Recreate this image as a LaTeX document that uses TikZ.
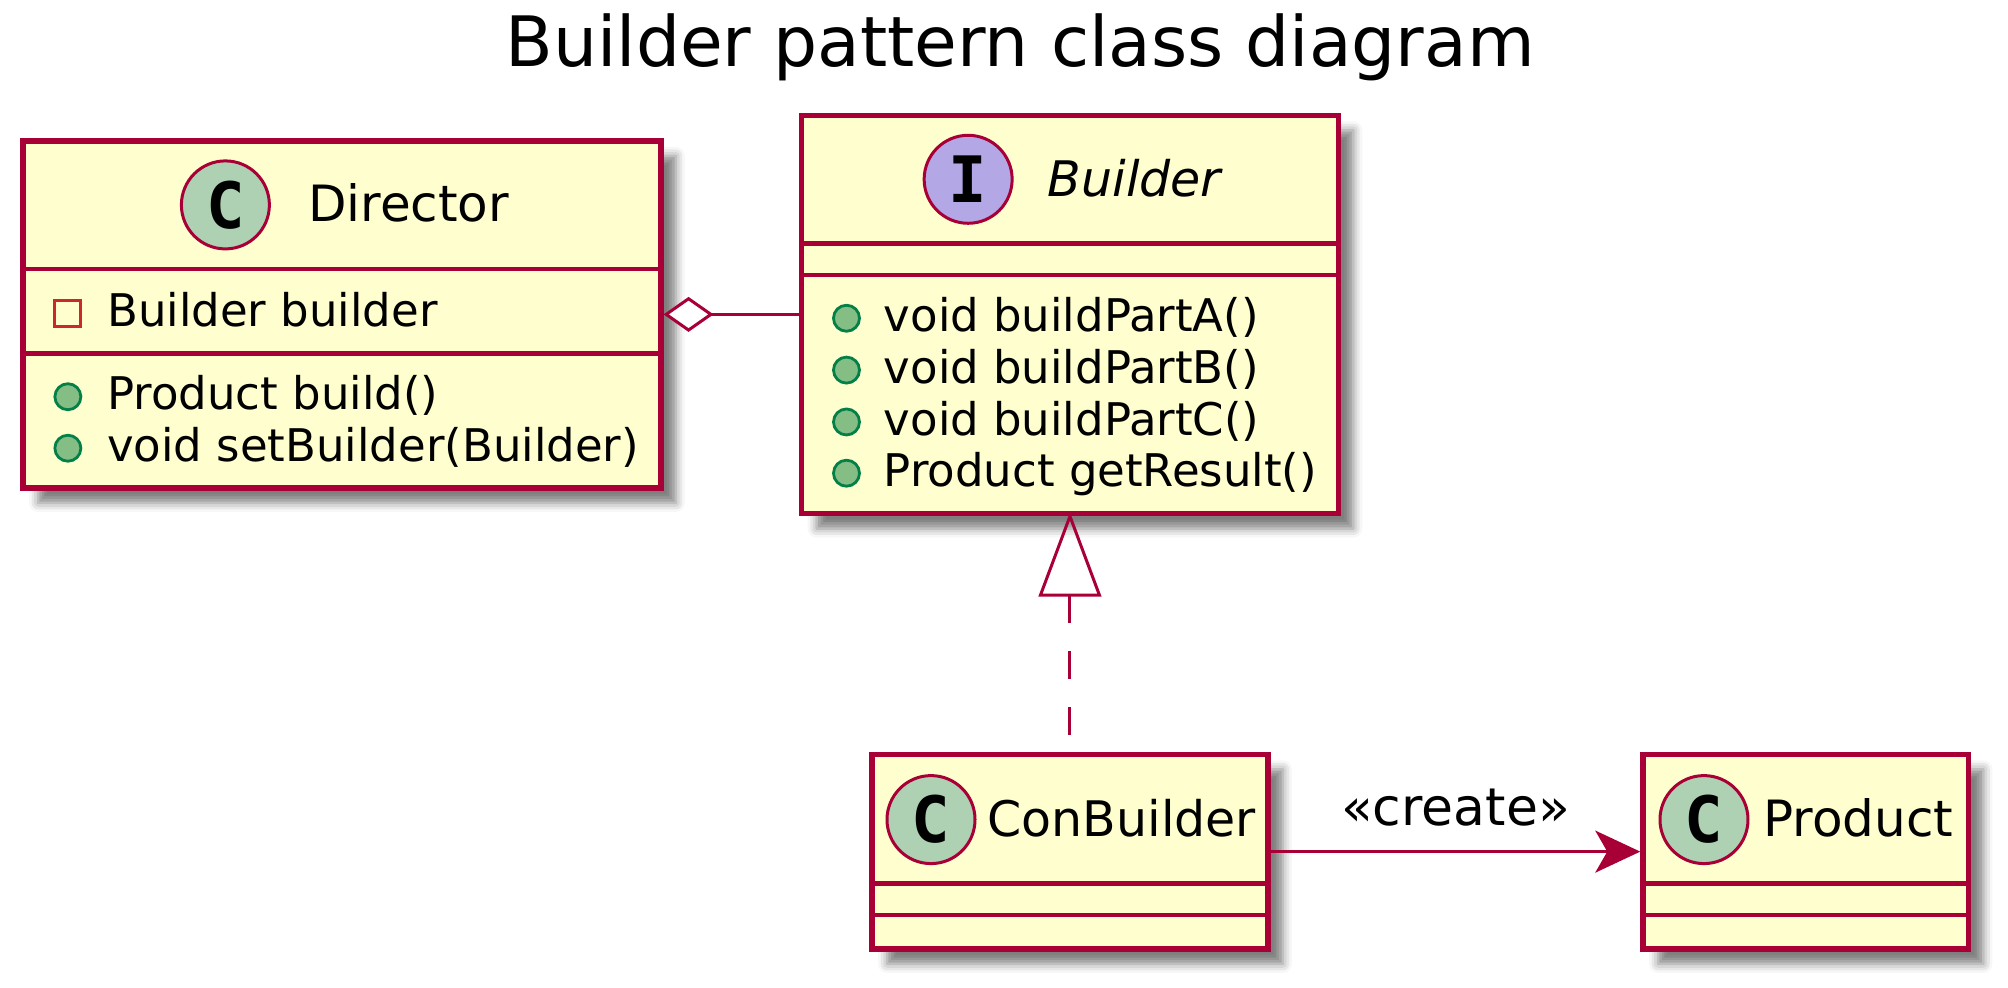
\documentclass[tikz,border=0pt]{standalone}
\usepackage{fontspec}
\setmainfont{DejaVu Sans}
\newfontfamily\spotfont{DejaVu Sans Mono}
\usetikzlibrary{arrows.meta,fit,calc,shadows.blur}
\definecolor{bord}{HTML}{A80036}
\definecolor{cfill}{HTML}{FEFECE}
\definecolor{spotc}{HTML}{ADD1B2}
\definecolor{spoti}{HTML}{B4A7E5}
\definecolor{pubfill}{HTML}{84BE84}
\definecolor{pubdraw}{HTML}{038048}
\definecolor{privdraw}{HTML}{C82930}
\tikzset{
  classbox/.style={draw=bord, fill=cfill, line width=5.5pt, inner sep=0pt,
    blur shadow={shadow xshift=15pt, shadow yshift=-15pt, shadow blur radius=9pt, shadow opacity=50}},
  sepline/.style={draw=bord, line width=4.5pt},
  spot/.style={circle, draw=bord, line width=3pt, minimum size=88pt, inner sep=0pt,
    font=\spotfont\bfseries\fontsize{64}{64}\selectfont},
  pub/.style={circle, draw=pubdraw, fill=pubfill, line width=2.8pt, minimum size=26pt, inner sep=0pt},
  priv/.style={rectangle, draw=privdraw, line width=2.8pt, minimum size=26pt, inner sep=0pt},
  member/.style={anchor=base west, inner sep=0pt, font=\fontsize{45}{52}\selectfont},
  cname/.style={anchor=base west, inner sep=0pt, font=\fontsize{50}{58}\selectfont},
  conn/.style={draw=bord, line width=3pt},
}
\begin{document}
\begin{tikzpicture}[x=1.2806pt,y=-1.2806pt]
\useasboundingbox (0,0) rectangle (1568,771);
% title
\node[anchor=base, inner sep=0pt, font=\fontsize{69.5}{80}\selectfont] (title) at (796.6,52.3) {Builder pattern class diagram};

% Director
\node[classbox, fit={(18,110)(516,381)}] (dir) {};
\draw[sepline] (18,210) -- (516,210);
\draw[sepline] (18,276) -- (516,276);
\node[spot, fill=spotc] (dirspot) at (176,160) {C};
\node[cname] (dirname) at (240.5,173) {Director};
\node[priv] (dira1) at (53,244.6) {};
\node[member] (dirat) at (83.6,255) {Builder builder};
\node[pub] (dirm1) at (53,309.8) {};
\node[member] (dirmt1) at (83.6,320) {Product build()};
\node[pub] (dirm2) at (53,350) {};
\node[member] (dirmt2) at (83.6,360) {void setBuilder(Builder)};

% Builder
\node[classbox, fit={(626,90)(1045,401)}] (bld) {};
\draw[sepline] (626,190) -- (1045,190);
\draw[sepline] (626,214.8) -- (1045,214.8);
\node[spot, fill=spoti] (bldspot) at (756,140) {I};
\node[cname, font=\itshape\fontsize{49}{56}\selectfont] (bldname) at (818,153.6) {Builder};
\node[pub] (bldm1) at (661,248.5) {};
\node[member] (bldmt1) at (690,259) {void buildPartA()};
\node[pub] (bldm2) at (661,289) {};
\node[member] (bldmt2) at (690,299.5) {void buildPartB()};
\node[pub] (bldm3) at (661,329.5) {};
\node[member] (bldmt3) at (690,340) {void buildPartC()};
\node[pub] (bldm4) at (661,369.5) {};
\node[member] (bldmt4) at (690,380) {Product getResult()};

% ConBuilder
\node[classbox, fit={(681,589)(990,741)}] (cb) {};
\draw[sepline] (681,689.7) -- (990,689.7);
\draw[sepline] (681,714.5) -- (990,714.5);
\node[spot, fill=spotc] (cbspot) at (727,640) {C};
\node[cname, font=\fontsize{49}{56}\selectfont] (cbname) at (771,653.5) {ConBuilder};

% Product
\node[classbox, fit={(1283,589)(1537,741)}] (pr) {};
\draw[sepline] (1283,689.7) -- (1537,689.7);
\draw[sepline] (1283,714.5) -- (1537,714.5);
\node[spot, fill=spotc] (prspot) at (1330.6,640) {C};
\node[cname] (prname) at (1376.8,653.5) {Product};

% aggregation
\draw[conn, -{Diamond[fill=white, length=50pt, width=35pt]}] (bld.west) -- (dir.east);

% realization
\coordinate (tribase) at ($(bld.south)+(0,61.5)$);
\draw[conn, dash pattern=on 28pt off 28pt] (tribase) -- (cb.north);
\draw[conn, line join=miter] (bld.south) -- ($(tribase)+(-23,0)$) -- ($(tribase)+(23,0)$) -- cycle;

% create
\draw[conn, -{Stealth[length=45pt, width=42pt, inset=12pt]}] (cb.east) -- (pr.west)
  node[midway, above=24pt, inner sep=0pt, font=\fontsize{52}{60}\selectfont, text=black] (lbl) {«create»};
\end{tikzpicture}
\end{document}
